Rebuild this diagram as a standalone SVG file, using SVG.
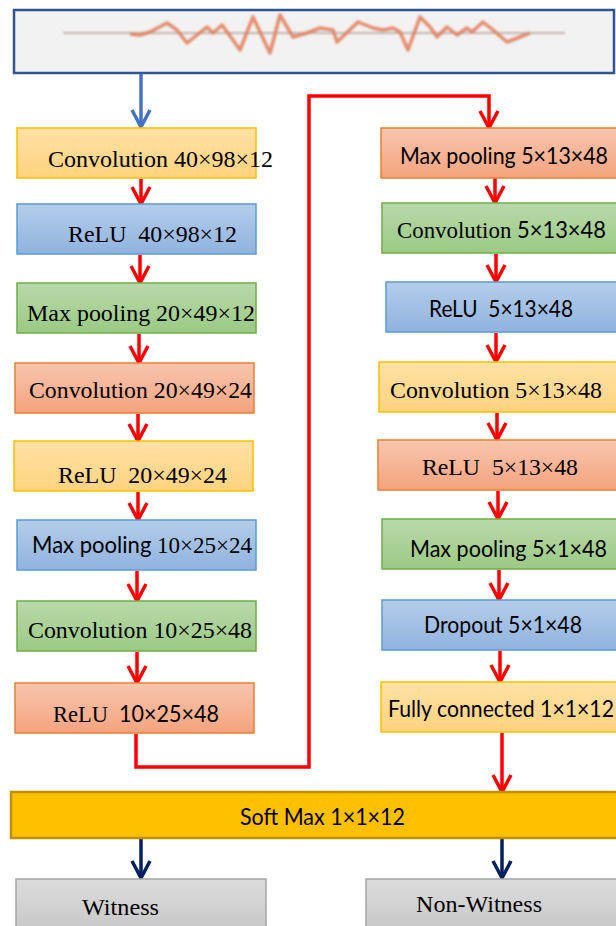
<svg xmlns="http://www.w3.org/2000/svg" width="616" height="926" viewBox="0 0 616 926">
<defs>
<linearGradient id="gY" x1="0" y1="0" x2="0" y2="1"><stop offset="0" stop-color="#FFE2A6"/><stop offset="1" stop-color="#FFD27E"/></linearGradient>
<linearGradient id="gB" x1="0" y1="0" x2="0" y2="1"><stop offset="0" stop-color="#B4CDEA"/><stop offset="1" stop-color="#90B3DF"/></linearGradient>
<linearGradient id="gG" x1="0" y1="0" x2="0" y2="1"><stop offset="0" stop-color="#B9D9AB"/><stop offset="1" stop-color="#9BCA84"/></linearGradient>
<linearGradient id="gO" x1="0" y1="0" x2="0" y2="1"><stop offset="0" stop-color="#F8C6AF"/><stop offset="1" stop-color="#F4A37E"/></linearGradient>
<linearGradient id="gK" x1="0" y1="0" x2="0" y2="1"><stop offset="0" stop-color="#DCDCDC"/><stop offset="1" stop-color="#C4C4C4"/></linearGradient>
<filter id="soft" x="-5%" y="-50%" width="110%" height="200%"><feGaussianBlur stdDeviation="0.9"/></filter>
<marker id="aR" markerUnits="userSpaceOnUse" markerWidth="40" markerHeight="40" refX="0" refY="0" orient="auto" overflow="visible"><path d="M-17,-9 L0,0 L-17,9" fill="none" stroke="#FF0000" stroke-width="3.5"/></marker>
<marker id="aB" markerUnits="userSpaceOnUse" markerWidth="40" markerHeight="40" refX="0" refY="0" orient="auto" overflow="visible"><path d="M-17,-9 L0,0 L-17,9" fill="none" stroke="#4472C4" stroke-width="3.5"/></marker>
<marker id="aN" markerUnits="userSpaceOnUse" markerWidth="40" markerHeight="40" refX="0" refY="0" orient="auto" overflow="visible"><path d="M-17,-9 L0,0 L-17,9" fill="none" stroke="#002060" stroke-width="3.5"/></marker>
</defs>
<style>
.y{fill:url(#gY);stroke:#FFC000;stroke-width:1.5}
.b{fill:url(#gB);stroke:#5B9BD5;stroke-width:1.5}
.g{fill:url(#gG);stroke:#70AD47;stroke-width:1.5}
.o{fill:url(#gO);stroke:#ED7D31;stroke-width:1.5}
.k{fill:url(#gK);stroke:#A5A5A5;stroke-width:1.5}
.s{font-family:"Liberation Serif","Times New Roman",serif;font-size:24px;fill:#000}
.n{font-family:Lato,"Liberation Sans",sans-serif;font-size:23px;fill:#000}
.r{fill:none;stroke:#FF0000;stroke-width:3.5;marker-end:url(#aR)}
.bl{fill:none;stroke:#4472C4;stroke-width:3.5;marker-end:url(#aB)}
.nv{fill:none;stroke:#002060;stroke-width:3.5;marker-end:url(#aN)}
</style>

<g id="input">
<rect x="14" y="10" width="600" height="63" fill="#F2F2F2" stroke="#2F5597" stroke-width="2.5"/>
<g filter="url(#soft)">
<line x1="63" y1="33" x2="565" y2="33" stroke="#B0A098" stroke-width="1.5"/>
<polyline fill="none" stroke="#E27A55" stroke-width="3.5" stroke-opacity="0.85" stroke-linejoin="round" points="130,34 140,35 150,32 167,23 177,30 187,43 197,35 207,27 213,33 222,25 233,40 240,50 253,17 270,53 280,15 293,37 307,33 320,28 333,30 337,42 358,22 373,28 383,30 393,28 400,32 408,50 420,17 430,27 437,37 447,27 457,35 467,28 472,32 483,22 493,30 507,42 520,37 530,33"/>
</g>
</g>

<g id="connectors">
<line class="bl" x1="141" y1="74" x2="141" y2="127"/>
<line class="r" x1="141" y1="179" x2="141" y2="204"/>
<line class="r" x1="140" y1="255" x2="140" y2="283"/>
<line class="r" x1="139" y1="334" x2="139" y2="363"/>
<line class="r" x1="138" y1="414" x2="138" y2="441"/>
<line class="r" x1="138" y1="492" x2="138" y2="520"/>
<line class="r" x1="137" y1="571" x2="137" y2="601"/>
<line class="r" x1="137" y1="652" x2="137" y2="683"/>
<polyline class="r" points="136,734 136,767 309,767 309,96 489,96 489,128"/>
<line class="r" x1="495" y1="178" x2="495" y2="203"/>
<line class="r" x1="496" y1="254" x2="496" y2="282"/>
<line class="r" x1="496" y1="333" x2="496" y2="362"/>
<line class="r" x1="497" y1="413" x2="497" y2="440"/>
<line class="r" x1="498" y1="491" x2="498" y2="519"/>
<line class="r" x1="499" y1="570" x2="499" y2="600"/>
<line class="r" x1="500" y1="651" x2="500" y2="682"/>
<line class="r" x1="502" y1="733" x2="502" y2="792"/>
<line class="nv" x1="141" y1="839" x2="141" y2="878"/>
<line class="nv" x1="502" y1="839" x2="502" y2="878"/>
</g>

<g id="conv1"><rect class="y" x="17" y="128" width="239" height="50"/><text class="s" x="48" y="167" textLength="225" lengthAdjust="spacingAndGlyphs">Convolution 40×98×12</text></g>
<g id="relu1"><rect class="b" x="17" y="204" width="239" height="50"/><text class="s" x="68" y="242" textLength="169" lengthAdjust="spacingAndGlyphs" xml:space="preserve">ReLU  40×98×12</text></g>
<g id="pool1"><rect class="g" x="17" y="283" width="239" height="50"/><text class="s" x="27" y="321" textLength="228" lengthAdjust="spacingAndGlyphs">Max pooling 20×49×12</text></g>
<g id="conv2"><rect class="o" x="15" y="363" width="239" height="50"/><text class="s" x="29" y="398" textLength="223" lengthAdjust="spacingAndGlyphs">Convolution 20×49×24</text></g>
<g id="relu2"><rect class="y" x="14" y="441" width="239" height="50"/><text class="s" x="58" y="483" textLength="169" lengthAdjust="spacingAndGlyphs" xml:space="preserve">ReLU  20×49×24</text></g>
<g id="pool2"><rect class="b" x="17" y="520" width="239" height="50"/><text x="32" y="553" textLength="220" lengthAdjust="spacingAndGlyphs"><tspan class="n">Max pooling </tspan><tspan class="s">10×25×24</tspan></text></g>
<g id="conv3"><rect class="g" x="17" y="601" width="239" height="50"/><text class="s" x="28" y="638" textLength="224" lengthAdjust="spacingAndGlyphs">Convolution 10×25×48</text></g>
<g id="relu3"><rect class="o" x="15" y="683" width="239" height="50"/><text x="53" y="722" textLength="166" lengthAdjust="spacingAndGlyphs" xml:space="preserve"><tspan class="s">ReLU  </tspan><tspan class="n">10×25×48</tspan></text></g>

<g id="pool3"><rect class="o" x="381" y="128" width="240" height="50"/><text class="n" x="400" y="164" textLength="208" lengthAdjust="spacingAndGlyphs">Max pooling 5×13×48</text></g>
<g id="conv4"><rect class="g" x="382" y="203" width="240" height="50"/><text x="397" y="238" textLength="209" lengthAdjust="spacingAndGlyphs"><tspan class="s">Convolution </tspan><tspan class="n">5×13×48</tspan></text></g>
<g id="relu4"><rect class="b" x="386" y="282" width="236" height="50"/><text class="n" x="429" y="317" textLength="144" lengthAdjust="spacingAndGlyphs" xml:space="preserve">ReLU  5×13×48</text></g>
<g id="conv5"><rect class="y" x="379" y="362" width="243" height="50"/><text class="s" x="390" y="398" textLength="212" lengthAdjust="spacingAndGlyphs">Convolution 5×13×48</text></g>
<g id="relu5"><rect class="o" x="378" y="440" width="244" height="50"/><text class="s" x="422" y="475" textLength="156" lengthAdjust="spacingAndGlyphs" xml:space="preserve">ReLU  5×13×48</text></g>
<g id="pool4"><rect class="g" x="382" y="519" width="240" height="50"/><text class="n" x="410" y="557" textLength="197" lengthAdjust="spacingAndGlyphs">Max pooling 5×1×48</text></g>
<g id="dropout"><rect class="b" x="382" y="600" width="240" height="50"/><text class="n" x="424" y="633" textLength="158" lengthAdjust="spacingAndGlyphs">Dropout 5×1×48</text></g>
<g id="fc"><rect class="y" x="381" y="682" width="241" height="50"/><text class="n" x="388" y="717" textLength="226" lengthAdjust="spacingAndGlyphs">Fully connected 1×1×12</text></g>

<g id="softmax"><rect x="11" y="792" width="610" height="46" fill="#FFC000" stroke="#BF9000" stroke-width="2.5"/><text class="n" x="240" y="825" textLength="165" lengthAdjust="spacingAndGlyphs">Soft Max 1×1×12</text></g>

<g id="witness"><rect class="k" x="16" y="879" width="250" height="60"/><text class="s" x="82" y="915" textLength="77" lengthAdjust="spacingAndGlyphs">Witness</text></g>
<g id="nonwitness"><rect class="k" x="366" y="879" width="260" height="60"/><text class="s" x="416" y="912" textLength="126" lengthAdjust="spacingAndGlyphs">Non-Witness</text></g>
</svg>
